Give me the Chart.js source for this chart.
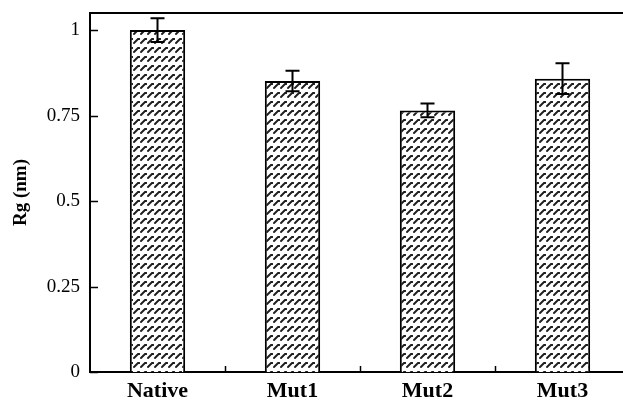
<!DOCTYPE html>
<html>
<head>
<meta charset="utf-8">
<script src="https://cdn.jsdelivr.net/npm/chart.js@4/dist/chart.umd.min.js"></script>
<style>
  html, body { margin: 0; padding: 0; background: #fff; overflow: hidden; }
  canvas { display: block; }
</style>
</head>
<body>
<canvas id="rg" width="640" height="400"></canvas>
<script>
// Radius of gyration per protein variant
const categories = ['Native', 'Mut1', 'Mut2', 'Mut3'];
const rgValues = [1.0, 0.851, 0.765, 0.858];
const rgErrors = [0.035, 0.03, 0.02, 0.045];
const yTickValues = [0, 0.25, 0.5, 0.75, 1];
const yTickLabels = ['0', '0.25', '0.5', '0.75', '1'];

const SERIF = '"Liberation Serif", "Times New Roman", serif';

// Rows of short slanted dashes used as the bar fill
function hatchPattern() {
  const tile = document.createElement('canvas');
  tile.width = 7;
  tile.height = 9;
  const c = tile.getContext('2d');
  c.fillStyle = '#fff';
  c.fillRect(0, 0, 7, 9);
  c.strokeStyle = '#1e1e1e';
  c.lineWidth = 1.9;
  c.lineCap = 'round';
  c.beginPath();
  c.moveTo(1, 7);
  c.lineTo(5, 3);
  c.lineTo(6.5, 3);
  c.stroke();
  return c.createPattern(tile, 'repeat');
}

// Frame top line, inward tick marks and error bars
const decorations = {
  id: 'decorations',
  afterDatasetsDraw(chart) {
    const { ctx } = chart;
    const y = chart.scales.y;
    const meta = chart.getDatasetMeta(0);
    ctx.save();
    ctx.strokeStyle = '#000';
    ctx.lineWidth = 2;
    meta.data.forEach((bar, i) => {
      const cx = bar.x;
      const top = y.getPixelForValue(rgValues[i] + rgErrors[i]);
      const bot = y.getPixelForValue(rgValues[i] - rgErrors[i]);
      ctx.beginPath();
      ctx.moveTo(cx, top);
      ctx.lineTo(cx, bot);
      ctx.moveTo(cx - 7, top);
      ctx.lineTo(cx + 7, top);
      ctx.moveTo(cx - 7, bot);
      ctx.lineTo(cx + 7, bot);
      ctx.stroke();
    });
    ctx.restore();
  },
  afterDraw(chart) {
    const { ctx, chartArea } = chart;
    const x = chart.scales.x;
    const y = chart.scales.y;
    ctx.save();
    ctx.strokeStyle = '#000';
    ctx.lineWidth = 2;
    ctx.beginPath();
    ctx.moveTo(chartArea.left - 1, chartArea.top);
    ctx.lineTo(chartArea.right, chartArea.top);
    ctx.moveTo(chartArea.right, chartArea.top);
    ctx.lineTo(chartArea.right, chartArea.bottom);
    ctx.stroke();
    ctx.lineWidth = 1.5;
    ctx.beginPath();
    yTickValues.forEach(v => {
      const py = Math.round(y.getPixelForValue(v)) + 0.5;
      ctx.moveTo(chartArea.left, py);
      ctx.lineTo(chartArea.left + 8, py);
    });
    for (let i = 1; i < categories.length; i++) {
      const px = Math.round((x.getPixelForValue(i - 1) + x.getPixelForValue(i)) / 2) + 0.5;
      ctx.moveTo(px, chartArea.bottom);
      ctx.lineTo(px, chartArea.bottom - 6);
    }
    ctx.stroke();
    ctx.restore();
  }
};

new Chart(document.getElementById('rg'), {
  type: 'bar',
  data: {
    labels: categories,
    datasets: [{
      data: rgValues,
      backgroundColor: hatchPattern(),
      borderColor: '#000',
      borderWidth: 2,
      barPercentage: 0.41,
      categoryPercentage: 1.0
    }]
  },
  options: {
    responsive: false,
    devicePixelRatio: 1,
    animation: false,
    layout: { padding: { top: 13, right: 10, left: 0, bottom: 0 } },
    plugins: {
      legend: { display: false },
      tooltip: { enabled: false }
    },
    scales: {
      x: {
        grid: { display: false, drawTicks: false },
        border: { display: true, color: '#000', width: 2 },
        ticks: {
          color: '#000',
          padding: 6,
          font: { family: SERIF, size: 22, weight: 'bold' }
        },
        afterFit(scale) {
          scale.height = 28;
          scale.paddingLeft = 0;
          scale.paddingRight = 0;
        }
      },
      y: {
        min: 0,
        max: 1.05,
        grid: { display: false, drawTicks: false },
        border: { display: true, color: '#000', width: 2 },
        afterBuildTicks(scale) {
          scale.ticks = yTickValues.map(v => ({ value: v }));
        },
        ticks: {
          color: '#000',
          padding: 10,
          font: { family: SERIF, size: 19 },
          callback: (v) => yTickLabels[yTickValues.indexOf(v)]
        },
        title: {
          display: true,
          text: 'Rg (nm)',
          color: '#000',
          padding: { top: 10, bottom: 0 },
          font: { family: SERIF, size: 19, weight: 'bold' }
        },
        afterFit(scale) {
          scale.width = 90;
          scale.paddingTop = 0;
          scale.paddingBottom = 0;
        }
      }
    }
  },
  plugins: [decorations]
});
</script>
</body>
</html>
